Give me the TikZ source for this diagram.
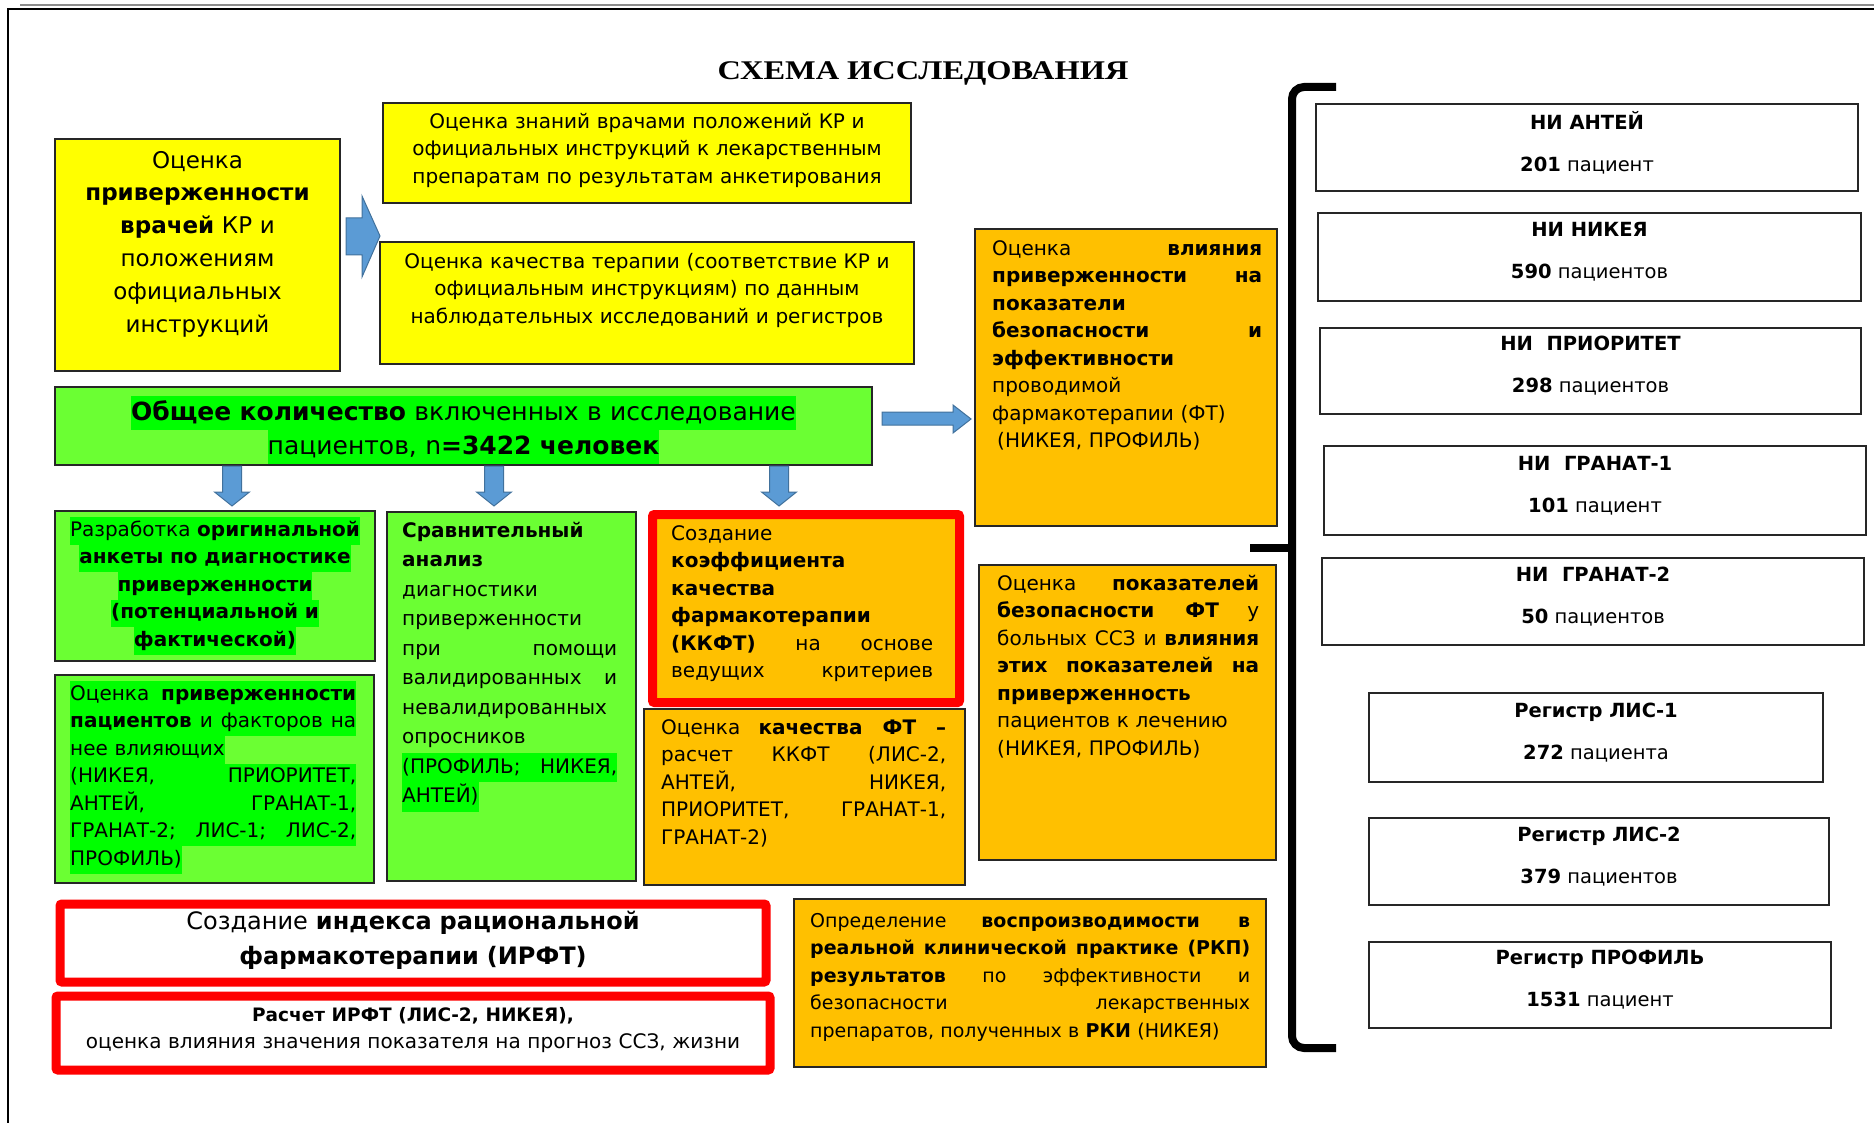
\documentclass[tikz,border=0pt]{standalone}
\usepackage{fontspec}
\setmainfont{DejaVu Sans}
\newfontfamily\titlefont[FakeStretch=1.2]{Liberation Serif}
\usepackage{tikz}
\usetikzlibrary{positioning}
\definecolor{Mark_yellow}{rgb}{1, 1, 0}
\definecolor{Lime_green}{rgb}{0.420, 1, 0.200}
\definecolor{Text_green}{rgb}{0, 1, 0}
\definecolor{Amber_orange}{rgb}{1, 0.753, 0}
\definecolor{Arrow_blue}{rgb}{0.357, 0.608, 0.835}
\definecolor{Arrow_edge}{rgb}{0.255, 0.443, 0.612}
\definecolor{Frame_red}{rgb}{1, 0, 0}
\newcommand{\bodysize}{\fontsize{20}{27.5}\selectfont}
\newcommand{\cardsize}{\fontsize{19.5}{42}\selectfont}
\newcommand{\jline}[1]{{\spaceskip=0pt\relax\xspaceskip=0pt\relax\makebox[\linewidth][s]{#1}}}
\newcommand{\hlbox}[1]{{\setlength{\fboxsep}{0pt}\colorbox{Text_green}{\strut#1}}}
\newcommand{\hljline}[1]{\hlbox{\jline{#1}}}
\tikzset{
  plainbox/.style={draw=black!85, line width=2pt, anchor=north west, inner sep=0pt},
  yellowbox/.style={plainbox, fill=Mark_yellow},
  greenbox/.style={plainbox, fill=Lime_green},
  amberbox/.style={plainbox, fill=Amber_orange},
  cardbox/.style={plainbox, fill=white, align=center, font=\cardsize,
    execute at begin node=\strut, execute at end node=\strut},
  redframe/.style={plainbox, draw=Frame_red, line width=9pt, rounded corners=2pt},
  txt/.style={inner sep=0pt, font=\bodysize, execute at begin node=\strut},
  blockarrow/.style={fill=Arrow_blue, draw=Arrow_edge, line width=1pt},
  bracketline/.style={line width=8pt}
}

\begin{document}
\begin{tikzpicture}[x=1pt, y=-1pt]
    \useasboundingbox (0,0) rectangle (1874,1123);
    \draw[line width=2pt, black!45] (20,5) -- (1874,5);
    \draw[line width=2.5pt] (8,1123) -- (8,9) -- (1874,9);

    \node[anchor=base, font=\titlefont\bfseries\fontsize{27}{30}\selectfont] (title) at (923,80) {СХЕМА ИССЛЕДОВАНИЯ};

    % yellow blocks
    \node[yellowbox, minimum width=285pt, minimum height=232pt] (vrachi) at (54,138) {};
    \node[txt, font=\fontsize{23}{32.8}\selectfont, text width=270pt, align=center, below=7pt of vrachi.north] (vrachi-txt) {Оценка\\ \textbf{приверженности}\\ \textbf{врачей} КР и\\ положениям\\ официальных\\ инструкций};
    \node[yellowbox, minimum width=528pt, minimum height=100pt] (znaniya) at (382,102) {};
    \node[txt, text width=515pt, align=center, below=7pt of znaniya.north] (znaniya-txt) {Оценка знаний врачами положений КР и\\ официальных инструкций к лекарственным\\ препаратам по результатам анкетирования};
    \node[yellowbox, minimum width=534pt, minimum height=122pt] (terapiya) at (379,241) {};
    \node[txt, text width=520pt, align=center, below=8pt of terapiya.north] (terapiya-txt) {Оценка качества терапии (соответствие КР и\\ официальным инструкциям) по данным\\ наблюдательных исследований и регистров};
    \filldraw[blockarrow] (346,218) -- (362,218) -- (362,196) -- (380,236) -- (362,277) -- (362,255) -- (346,255) -- cycle;

    % total
    \node[greenbox, minimum width=817pt, minimum height=78pt] (obshee) at (54,386) {};
    \node[txt, font=\fontsize{25}{34}\selectfont, text width=800pt, align=center, below=10pt of obshee.north] (obshee-txt) {\hlbox{\textbf{Общее количество} включенных в исследование}\\ \hlbox{пациентов, n\textbf{=3422 человек}}};
    \filldraw[blockarrow] (882,412) -- (953,412) -- (953,405) -- (971,419) -- (953,433) -- (953,425) -- (882,425) -- cycle;
    \filldraw[blockarrow] (222.5,466) -- (241.5,466) -- (241.5,492) -- (249.5,492) -- (232,506) -- (214.5,492) -- (222.5,492) -- cycle;
    \filldraw[blockarrow] (484.5,466) -- (503.5,466) -- (503.5,492) -- (511.5,492) -- (494,506) -- (476.5,492) -- (484.5,492) -- cycle;
    \filldraw[blockarrow] (769.5,466) -- (788.5,466) -- (788.5,492) -- (796.5,492) -- (779,506) -- (761.5,492) -- (769.5,492) -- cycle;

    % green column
    \node[greenbox, minimum width=320pt, minimum height=150pt] (anketa) at (54,510) {};
    \node[txt, text width=310pt, align=center, below=7pt of anketa.north] (anketa-txt) {\hlbox{Разработка \textbf{оригинальной}}\\ \hlbox{\textbf{анкеты по диагностике}}\\ \hlbox{\textbf{приверженности}}\\ \hlbox{\textbf{(потенциальной и}}\\ \hlbox{\textbf{фактической)}}};
    \node[greenbox, minimum width=319pt, minimum height=208pt] (pacienty) at (54,674) {};
    \node[txt, text width=286pt, align=left, below right=7pt and 16pt of pacienty.north west] (pacienty-txt) {\hljline{Оценка \textbf{приверженности}}\\ \hljline{\textbf{пациентов} и факторов на}\\ \hlbox{нее влияющих}\\ \hljline{(НИКЕЯ, ПРИОРИТЕТ,}\\ \hljline{АНТЕЙ, ГРАНАТ-1,}\\ \hljline{ГРАНАТ-2; ЛИС-1; ЛИС-2,}\\ \hlbox{ПРОФИЛЬ)}};
    \node[greenbox, minimum width=249pt, minimum height=369pt] (oprosniki) at (386,511) {};
    \node[txt, font=\fontsize{20}{29.5}\selectfont, text width=215pt, align=left, below right=5.5pt and 16pt of oprosniki.north west] (oprosniki-txt) {\textbf{Сравнительный}\\ \textbf{анализ}\\ диагностики\\ приверженности\\ \jline{при помощи}\\ \jline{валидированных и}\\ невалидированных\\ опросников\\ \hljline{(ПРОФИЛЬ; НИКЕЯ,}\\ \hlbox{АНТЕЙ)}};

    % orange blocks
    \node[redframe, fill=Amber_orange, minimum width=307pt, minimum height=188pt] (kkft) at (648,510) {};
    \node[txt, text width=262pt, align=left, below right=11pt and 23pt of kkft.north west] (kkft-txt) {Создание\\ \textbf{коэффициента}\\ \textbf{качества}\\ \textbf{фармакотерапии}\\ \jline{\textbf{(ККФТ)} на основе}\\ \jline{ведущих критериев}};
    \node[amberbox, minimum width=321pt, minimum height=176pt] (raschet) at (643,708) {};
    \node[txt, text width=285pt, align=left, below right=7pt and 18pt of raschet.north west] (raschet-txt) {\jline{Оценка \textbf{качества ФТ –}}\\ \jline{расчет ККФТ (ЛИС-2,}\\ \jline{АНТЕЙ, НИКЕЯ,}\\ \jline{ПРИОРИТЕТ, ГРАНАТ-1,}\\ ГРАНАТ-2)};
    \node[amberbox, minimum width=302pt, minimum height=297pt] (vliyanie) at (974,228) {};
    \node[txt, text width=270pt, align=left, below right=8pt and 18pt of vliyanie.north west] (vliyanie-txt) {\jline{Оценка \textbf{влияния}}\\ \jline{\textbf{приверженности на}}\\ \textbf{показатели}\\ \jline{\textbf{безопасности и}}\\ \textbf{эффективности}\\ проводимой\\ фармакотерапии (ФТ)\\ \hspace*{5pt}(НИКЕЯ, ПРОФИЛЬ)};
    \node[amberbox, minimum width=297pt, minimum height=295pt] (bezopasnost) at (978,564) {};
    \node[txt, text width=262pt, align=left, below right=7pt and 19pt of bezopasnost.north west] (bezopasnost-txt) {\jline{Оценка \textbf{показателей}}\\ \jline{\textbf{безопасности ФТ} у}\\ \jline{больных ССЗ и \textbf{влияния}}\\ \jline{\textbf{этих показателей на}}\\ \textbf{приверженность}\\ пациентов к лечению\\ (НИКЕЯ, ПРОФИЛЬ)};
    \node[amberbox, minimum width=472pt, minimum height=168pt] (rkp) at (793,898) {};
    \node[txt, font=\fontsize{19}{27.5}\selectfont, text width=440pt, align=left, below right=10pt and 17pt of rkp.north west] (rkp-txt) {\jline{Определение \textbf{воспроизводимости в}}\\ \jline{\textbf{реальной клинической практике (РКП)}}\\ \jline{\textbf{результатов} по эффективности и}\\ \jline{безопасности лекарственных}\\ препаратов, полученных в \textbf{РКИ} (НИКЕЯ)};

    % red blocks
    \node[redframe, fill=white, minimum width=706pt, minimum height=78pt] (irft) at (55.5,899.5) {};
    \node[txt, font=\fontsize{24}{35}\selectfont, text width=690pt, align=center, below=5.5pt of irft.north] (irft-txt) {Создание \textbf{индекса рациональной}\\ \textbf{фармакотерапии (ИРФТ)}};
    \node[redframe, fill=white, minimum width=714pt, minimum height=74pt] (prognoz) at (51.5,991.5) {};
    \node[txt, font=\fontsize{20}{27}\selectfont, text width=700pt, align=center, below=10.5pt of prognoz.north] (prognoz-txt) {{\fontsize{18.5}{27}\selectfont\textbf{Расчет ИРФТ (ЛИС-2, НИКЕЯ),}}\\ оценка влияния значения показателя на прогноз ССЗ, жизни};

    % studies
    \draw[bracketline, rounded corners=12pt] (1336,87) -- (1292,87) -- (1292,1048) -- (1336,1048);
    \draw[bracketline] (1250,548) -- (1292,548);
    \node[cardbox, minimum width=542pt, minimum height=87pt] (antei) at (1315,103) {\textbf{НИ АНТЕЙ}\\ \textbf{201} пациент};
    \node[cardbox, minimum width=543pt, minimum height=88pt] (nikeya) at (1317,212) {\textbf{НИ НИКЕЯ}\\ \textbf{590} пациентов};
    \node[cardbox, minimum width=541pt, minimum height=86pt] (prioritet) at (1319,327) {\textbf{НИ\ \ ПРИОРИТЕТ}\\ \textbf{298} пациентов};
    \node[cardbox, minimum width=542pt, minimum height=89pt] (granat1) at (1323,445) {\textbf{НИ\ \ ГРАНАТ-1}\\ \textbf{101} пациент};
    \node[cardbox, minimum width=542pt, minimum height=87pt] (granat2) at (1321,557) {\textbf{НИ\ \ ГРАНАТ-2}\\ \textbf{50} пациентов};
    \node[cardbox, minimum width=454pt, minimum height=89pt] (lis1) at (1368,692) {\textbf{Регистр ЛИС-1}\\ \textbf{272} пациента};
    \node[cardbox, minimum width=460pt, minimum height=87pt] (lis2) at (1368,817) {\textbf{Регистр ЛИС-2}\\ \textbf{379} пациентов};
    \node[cardbox, minimum width=462pt, minimum height=86pt] (profil) at (1368,941) {\textbf{Регистр ПРОФИЛЬ}\\ \textbf{1531} пациент};
\end{tikzpicture}
\end{document}
